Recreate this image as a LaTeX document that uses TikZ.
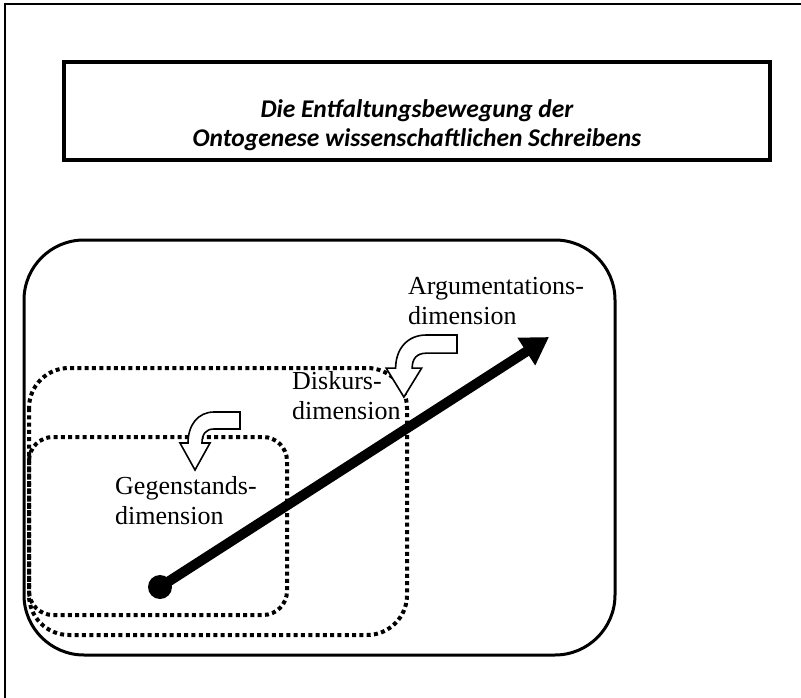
\documentclass[tikz,border=0pt]{standalone}
\usepackage{fontspec}
\usetikzlibrary{arrows.meta}
\newfontfamily\titlefont{Carlito}
\newfontfamily\lblfont{Liberation Serif}
\tikzset{
  frameline/.style={line width=2.2pt},
  titlebox/.style={draw, line width=4pt, minimum width=706pt, minimum height=98pt, inner sep=0pt},
  titletext/.style={align=center, font=\titlefont\bfseries\itshape\fontsize{25.5}{29}\selectfont, inner sep=0pt},
  bigbox/.style={draw, line width=3pt, rounded corners=60pt},
  dotbox/.style={draw, line width=4pt, dash pattern=on 4pt off 3.3pt},
  lbl/.style={align=left, font=\lblfont\fontsize{26}{30}\selectfont, inner sep=0pt},
  bentstyle/.style={draw, fill=white, line width=1.6pt, line join=miter},
  bentarrow/.pic={
    \draw[bentstyle] (0,0) -- (-26,0) .. controls (-42,0) and (-52,13) .. (-52,31)
      -- (-60,31) -- (-45,58) -- (-30,31) -- (-38,31)
      .. controls (-38,22) and (-34,17) .. (-26,17) -- (0,17) -- cycle;
  }
}
\begin{document}
\begin{tikzpicture}[x=1pt,y=-1pt]
\useasboundingbox (0,0) rectangle (801,698);
% page frame
\coordinate (fbl) at (5,698);
\coordinate (ftl) at (5,4);
\coordinate (ftr) at (801,4);
\draw[frameline] (fbl) -- (ftl) -- (ftr);
% title
\node[titlebox] (title) at (417,111) {};
\node[titletext] (titletxt) at (417,125) {Die Entfaltungsbewegung der\\Ontogenese wissenschaftlichen Schreibens};
% big rounded box
\draw[bigbox] (24,240) rectangle (615,655);
% dotted boxes
\draw[dotbox, rounded corners=40pt] (29,368) rectangle (407,635);
\draw[dotbox, rounded corners=24pt] (29,437) rectangle (287,615);
% main arrow
\node[circle, fill=black, inner sep=0pt, minimum size=24pt] (dot) at (160,587) {};
\coordinate (tip) at (549,337);
\draw[line width=10pt, -{Triangle[length=27pt,width=31pt]}] (dot.center) -- (tip);
% bent arrows
\pic[xscale=1.18, yscale=1.07] at (457,335) {bentarrow};
\pic at (240,412) {bentarrow};
% labels
\node[lbl, anchor=base west] (arg) at (408,324) {Argumentations-\\dimension};
\node[lbl, anchor=base west] (disk) at (292,419) {Diskurs-\\dimension};
\node[lbl, anchor=base west] (geg) at (115,524) {Gegenstands-\\dimension};
\end{tikzpicture}
\end{document}
